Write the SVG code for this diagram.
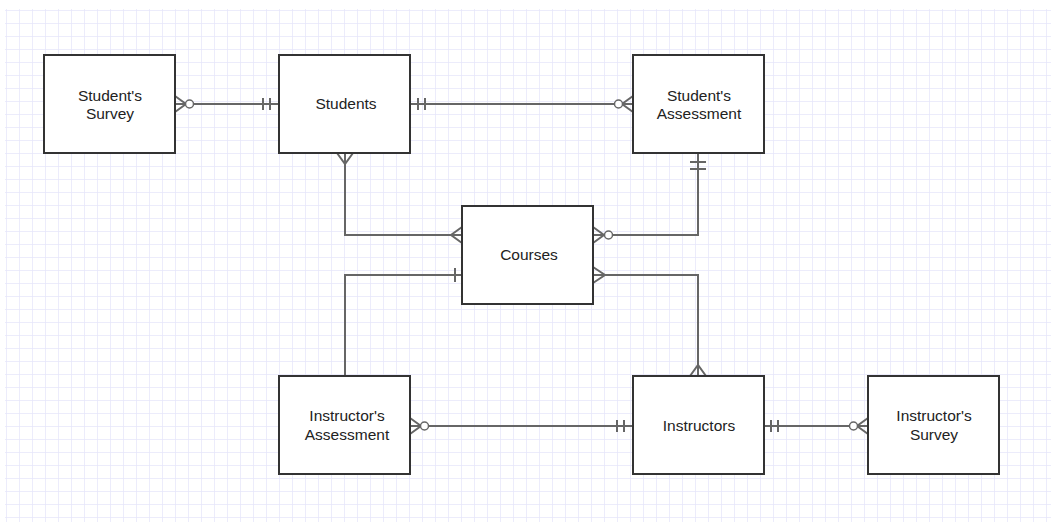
<svg xmlns="http://www.w3.org/2000/svg" width="1055" height="524" viewBox="0 0 1055 524">
<defs>
<pattern id="grid" x="6" y="10" width="13" height="13" patternUnits="userSpaceOnUse">
<path d="M0 0V13M0 0H13" fill="none" stroke="#e6e6fa" stroke-width="1.5"/>
</pattern>
<style>
.box{fill:#fff;stroke:#333;stroke-width:2}
.lbl{font-family:"Liberation Sans",Arial,sans-serif;font-size:15.5px;fill:#222;text-anchor:middle}
.ln{fill:none;stroke:#666;stroke-width:2}
.ci{fill:#fff;stroke:#666;stroke-width:1.5}
</style>
</defs>
<rect width="1055" height="524" fill="#fff"/>
<rect x="5" y="9" width="1046" height="513" fill="url(#grid)"/>
<g id="connectors">
<path class="ln" d="M175 104H279M175 96L186 104L175 112M263 98V110M270 98V110"/>
<circle class="ci" cx="189.5" cy="104" r="4"/>
<path class="ln" d="M410 104H633M418 98V110M425 98V110M633 96L622 104L633 112"/>
<circle class="ci" cx="618.5" cy="104" r="4"/>
<path class="ln" d="M345 153V235H462M337 153L345 164L353 153M462 227L451 235L462 243"/>
<path class="ln" d="M698 153V235H593M690 162H706M690 169H706M593 227L604 235L593 243"/>
<circle class="ci" cx="608.5" cy="235" r="4"/>
<path class="ln" d="M462 275H345V376M455 268V282"/>
<path class="ln" d="M593 275H698V376M593 267L605 275L593 283M690 376L698 365L706 376"/>
<path class="ln" d="M410 426H633M410 418L421 426L410 434M617 420V432M624 420V432"/>
<circle class="ci" cx="424.5" cy="426" r="4"/>
<path class="ln" d="M764 426H868M771 420V432M778 420V432M868 418L857 426L868 434"/>
<circle class="ci" cx="853.5" cy="426" r="4"/>
</g>
<g id="students-survey">
<rect class="box" x="44" y="55" width="131" height="98"/>
<text class="lbl" x="110" y="101">Student's</text>
<text class="lbl" x="110" y="119">Survey</text>
</g>
<g id="students">
<rect class="box" x="279" y="55" width="131" height="98"/>
<text class="lbl" x="346" y="109">Students</text>
</g>
<g id="students-assessment">
<rect class="box" x="633" y="55" width="131" height="98"/>
<text class="lbl" x="699" y="101">Student's</text>
<text class="lbl" x="699" y="119">Assessment</text>
</g>
<g id="courses">
<rect class="box" x="462" y="206" width="131" height="98"/>
<text class="lbl" x="529" y="260">Courses</text>
</g>
<g id="instructors-assessment">
<rect class="box" x="279" y="376" width="131" height="98"/>
<text class="lbl" x="347" y="421">Instructor's</text>
<text class="lbl" x="347" y="440">Assessment</text>
</g>
<g id="instructors">
<rect class="box" x="633" y="376" width="131" height="98"/>
<text class="lbl" x="699" y="431">Instructors</text>
</g>
<g id="instructors-survey">
<rect class="box" x="868" y="376" width="131" height="98"/>
<text class="lbl" x="934" y="421">Instructor's</text>
<text class="lbl" x="934" y="440">Survey</text>
</g>
</svg>
